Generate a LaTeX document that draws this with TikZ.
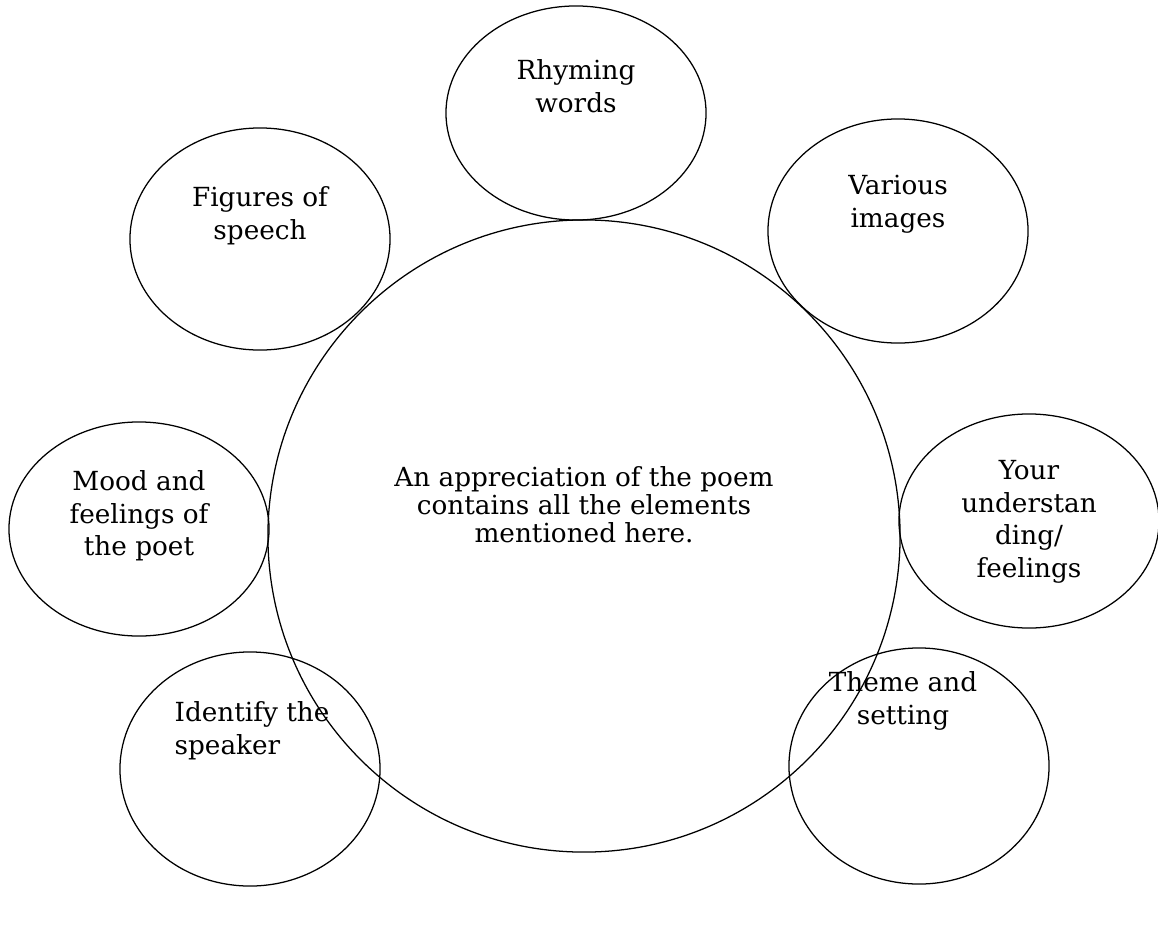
\documentclass[tikz,border=0pt]{standalone}
\usepackage{fontspec}
\setmainfont{DejaVu Serif}
\usetikzlibrary{shapes.geometric}

\tikzset{
  bubble/.style={draw, ellipse, line width=0.9pt, inner sep=0pt, minimum width=6.5cm, minimum height=5.35cm},
  words/.style={align=center, inner sep=0pt, font=\fontsize{18.7}{23.2}\selectfont}
}

\begin{document}
\begin{tikzpicture}[x=0.025cm,y=-0.025cm]
        \useasboundingbox (0,0) rectangle (1158,927);
        \node[bubble, minimum width=15.8cm, minimum height=15.8cm] (poem) at (584,536) {};
        \node[bubble] (rhyme) at (576,113) {};
        \node[bubble, minimum height=5.55cm] (figures) at (260,239) {};
        \node[bubble, minimum height=5.6cm] (images) at (898,231) {};
        \node[bubble] (mood) at (139,529) {};
        \node[bubble] (understanding) at (1029,521) {};
        \node[bubble, minimum height=5.85cm] (speaker) at (250,769) {};
        \node[bubble, minimum height=5.9cm] (theme) at (919,766) {};
        \node[words, font=\fontsize{18.7}{19.9}\selectfont] (poemtext) at (584,505) {An appreciation of the poem\\contains all the elements\\mentioned here.};
        \node[words] (rhymetext) at (576,86) {Rhyming\\words};
        \node[words] (figurestext) at (260,216) {Figures of\\speech};
        \node[words] (imagestext) at (898,204) {Various\\images};
        \node[words] (moodtext) at (139,516) {Mood and\\feelings of\\the poet};
        \node[words] (understandingtext) at (1029,522) {Your\\understan\\ding/\\feelings};
        \node[words, align=left] (speakertext) at (252,731) {Identify the\\speaker};
        \node[words] (themetext) at (903,701) {Theme and\\setting};
    \end{tikzpicture}
\end{document}
